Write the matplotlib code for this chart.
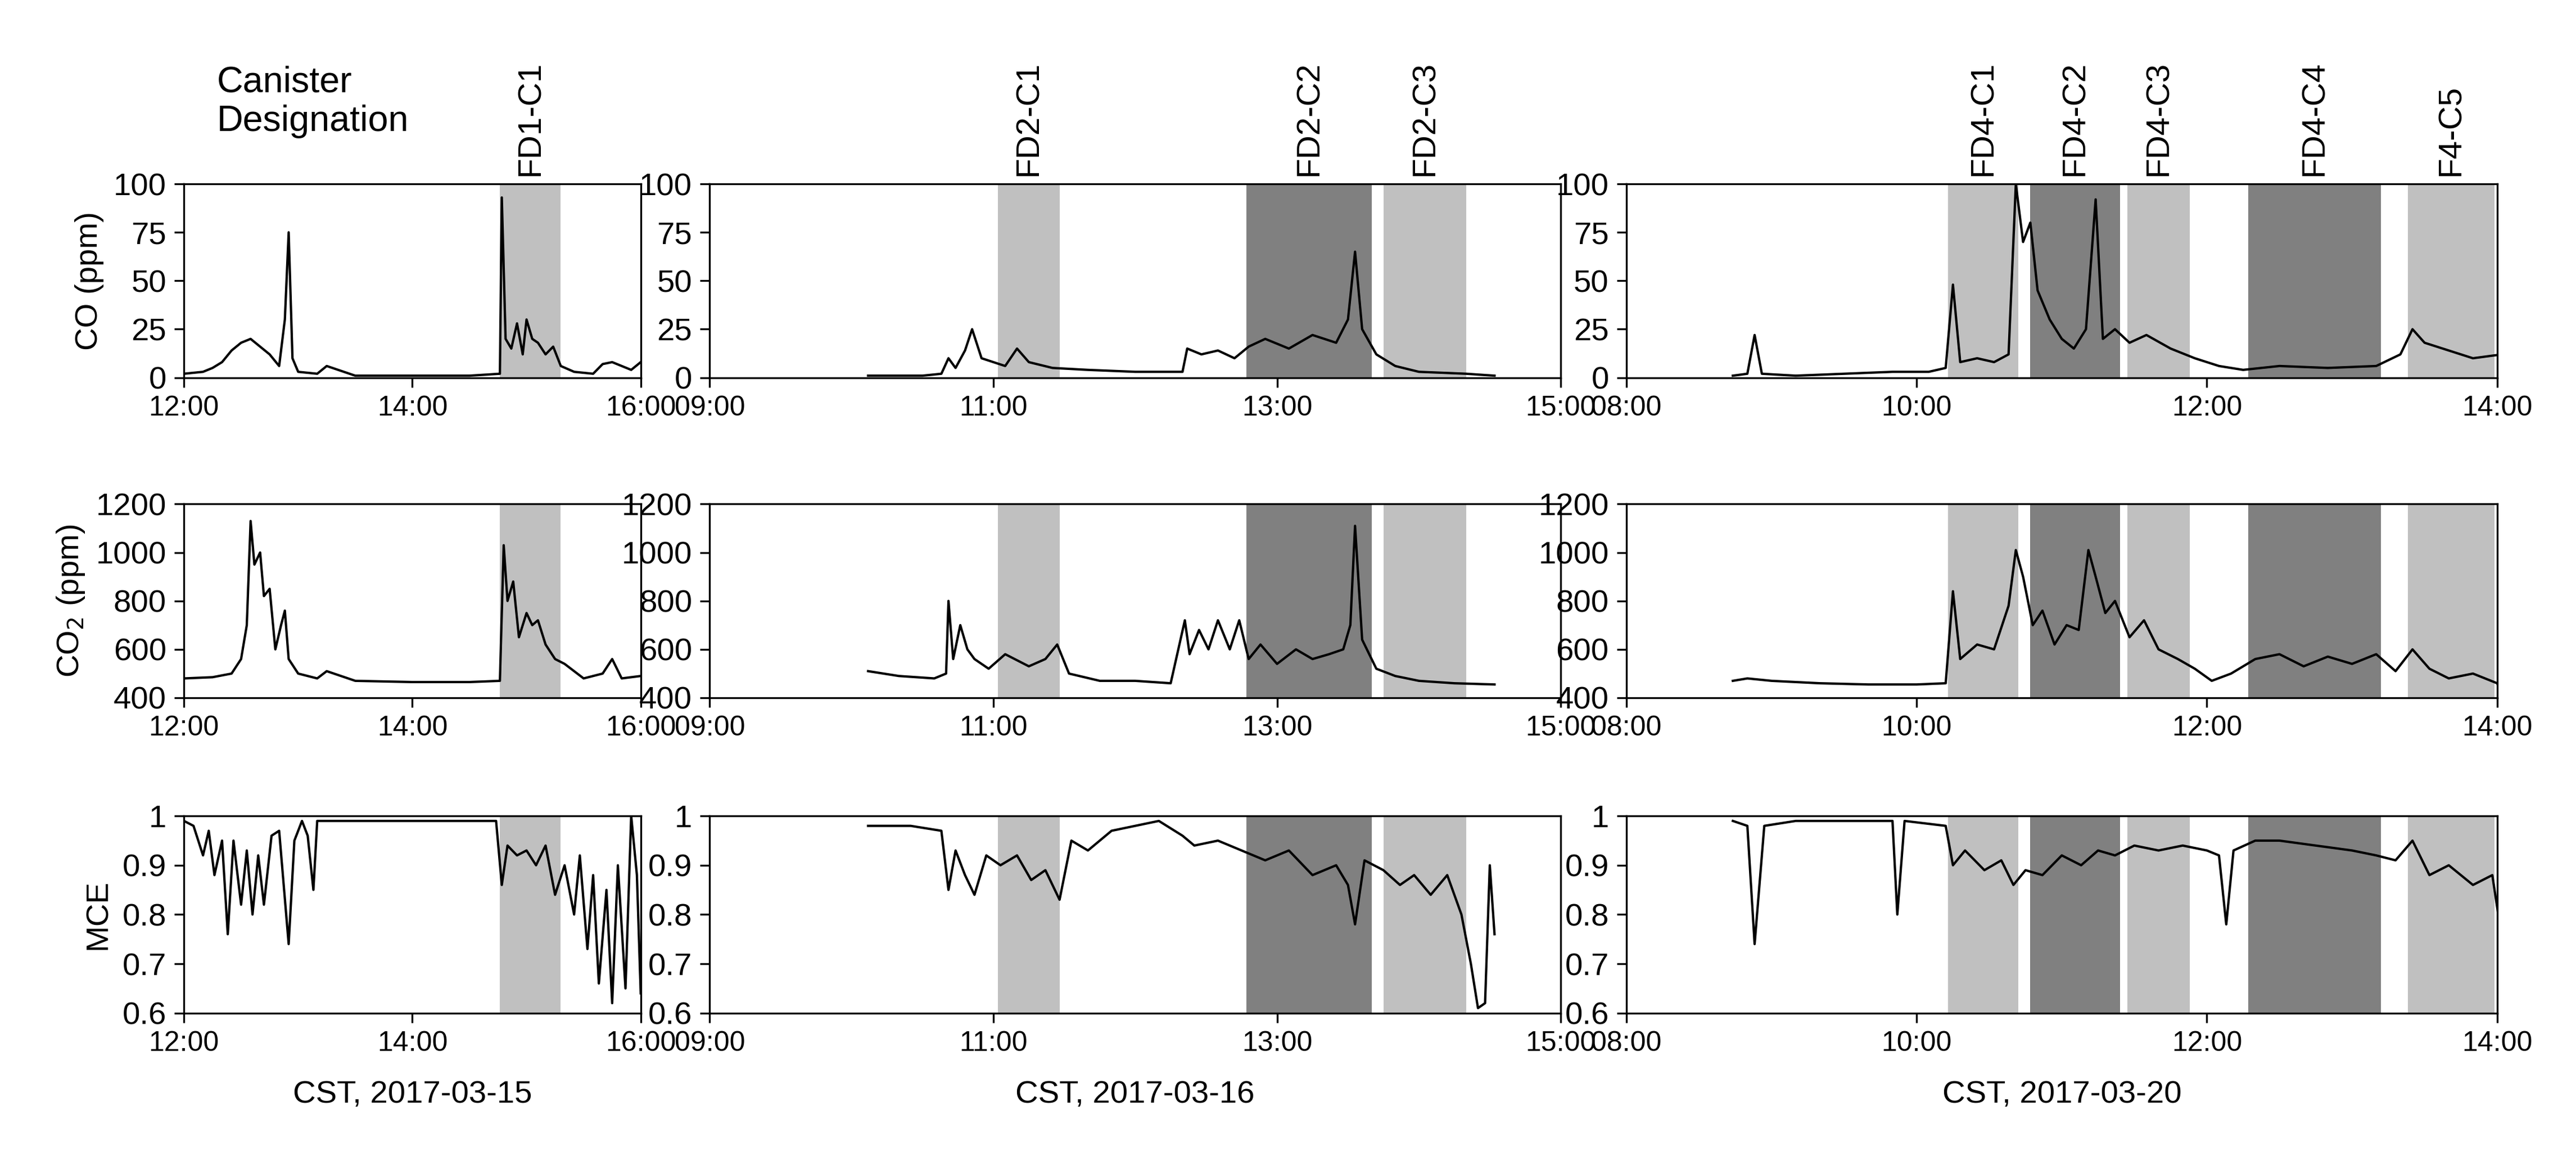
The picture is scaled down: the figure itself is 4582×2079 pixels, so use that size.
import numpy as np
import matplotlib.pyplot as plt
import matplotlib.dates as mdates
from datetime import datetime

plt.rcParams['font.family'] = ['Liberation Sans', 'DejaVu Sans']
plt.rcParams['font.size'] = 13

DAYS = ["2017-03-15", "2017-03-16", "2017-03-20"]

# ---- day 1 (2017-03-15) ----
co_t1 = ["12:00", "12:10", "12:15", "12:20", "12:25", "12:30", "12:35", "12:40", "12:45", "12:50", "12:53", "12:55",
         "12:57", "13:00", "13:10", "13:15", "13:30", "14:00", "14:30", "14:46", "14:47", "14:49", "14:52", "14:55",
         "14:58", "15:00", "15:03", "15:06", "15:10", "15:14", "15:18", "15:25", "15:35", "15:40", "15:45", "15:55", "16:00"]
co_v1 = [2, 3, 5, 8, 14, 18, 20, 16, 12, 6, 30, 75,
         10, 3, 2, 6, 1, 1, 1, 2, 93, 20, 15, 28, 12, 30, 20, 18, 12, 16, 6, 3, 2, 7, 8, 4, 8]
co2_t1 = ["12:00", "12:15", "12:25", "12:30", "12:33", "12:35", "12:37", "12:40", "12:42", "12:45", "12:48",
          "12:51", "12:53", "12:55", "13:00", "13:10", "13:15", "13:30", "14:00", "14:30", "14:46", "14:48",
          "14:50", "14:53", "14:56", "15:00", "15:03", "15:06", "15:10", "15:15", "15:20", "15:30", "15:40", "15:45",
          "15:50", "16:00"]
co2_v1 = [480, 485, 500, 560, 700, 1130, 950, 1000, 820, 850, 600,
          700, 760, 560, 500, 480, 510, 470, 465, 465, 470, 1030,
          800, 880, 650, 750, 700, 720, 620, 560, 540, 480, 500, 560, 480, 490]
mce_t1 = ["12:00", "12:05", "12:10", "12:13", "12:16", "12:20", "12:23", "12:26", "12:30", "12:33", "12:36",
          "12:39", "12:42", "12:46", "12:50", "12:55", "12:58", "13:02", "13:05", "13:08", "13:10", "13:20",
          "14:00", "14:30", "14:44", "14:47", "14:50", "14:55", "15:00", "15:05", "15:10", "15:15", "15:20", "15:25",
          "15:28", "15:32", "15:35", "15:38", "15:42", "15:45", "15:48", "15:52", "15:55", "15:58", "16:00"]
mce_v1 = [0.99, 0.98, 0.92, 0.97, 0.88, 0.95, 0.76, 0.95, 0.82, 0.93, 0.80,
          0.92, 0.82, 0.96, 0.97, 0.74, 0.95, 0.99, 0.96, 0.85, 0.99, 0.99,
          0.99, 0.99, 0.99, 0.86, 0.94, 0.92, 0.93, 0.90, 0.94, 0.84, 0.90, 0.80,
          0.92, 0.73, 0.88, 0.66, 0.85, 0.62, 0.90, 0.65, 1.0, 0.88, 0.64]

# ---- day 2 (2017-03-16) ----
co_t2 = ["10:07", "10:30", "10:38", "10:41", "10:44", "10:48", "10:51", "10:55", "11:00", "11:05", "11:10",
         "11:15", "11:25", "11:40", "12:00", "12:20", "12:22", "12:28", "12:35", "12:42", "12:48", "12:55",
         "13:05", "13:15", "13:25", "13:30", "13:33", "13:36", "13:42", "13:50", "14:00", "14:20", "14:32"]
co_v2 = [1, 1, 2, 10, 5, 14, 25, 10, 8, 6, 15,
         8, 5, 4, 3, 3, 15, 12, 14, 10, 16, 20,
         15, 22, 18, 30, 65, 25, 12, 6, 3, 2, 1]
co2_t2 = ["10:07", "10:20", "10:35", "10:40", "10:41", "10:43", "10:46", "10:49", "10:52", "10:58", "11:05",
          "11:15", "11:22", "11:27", "11:32", "11:45", "12:00", "12:15", "12:21", "12:23", "12:27", "12:31",
          "12:35", "12:40", "12:44", "12:48", "12:53", "13:00", "13:08", "13:15", "13:22", "13:28", "13:31",
          "13:33", "13:36", "13:42", "13:50", "14:00", "14:15", "14:32"]
co2_v2 = [510, 490, 480, 500, 800, 560, 700, 600, 560, 520, 580,
          530, 560, 620, 500, 470, 470, 460, 720, 580, 680, 600,
          720, 600, 720, 560, 620, 540, 600, 560, 580, 600, 700,
          1110, 640, 520, 490, 470, 460, 455]
mce_t2 = ["10:07", "10:25", "10:38", "10:41", "10:44", "10:48", "10:52", "10:57", "11:03", "11:10", "11:16",
          "11:22", "11:28", "11:33", "11:40", "11:50", "12:00", "12:10", "12:20", "12:25", "12:35", "12:45",
          "12:55", "13:05", "13:15", "13:25", "13:30", "13:33", "13:37", "13:45", "13:52", "13:58", "14:05",
          "14:12", "14:18", "14:22", "14:25", "14:28", "14:30", "14:32"]
mce_v2 = [0.98, 0.98, 0.97, 0.85, 0.93, 0.88, 0.84, 0.92, 0.90, 0.92, 0.87,
          0.89, 0.83, 0.95, 0.93, 0.97, 0.98, 0.99, 0.96, 0.94, 0.95, 0.93,
          0.91, 0.93, 0.88, 0.90, 0.86, 0.78, 0.91, 0.89, 0.86, 0.88, 0.84,
          0.88, 0.80, 0.70, 0.61, 0.62, 0.90, 0.76]

# ---- day 3 (2017-03-20) ----
co_t3 = ["08:44", "08:50", "08:53", "08:56", "09:10", "09:30", "09:50", "10:05", "10:12", "10:15", "10:18",
         "10:25", "10:32", "10:38", "10:41", "10:44", "10:47", "10:50", "10:55", "11:00", "11:05", "11:10",
         "11:14", "11:17", "11:22", "11:28", "11:35", "11:45", "11:55", "12:05", "12:15", "12:30", "12:50",
         "13:10", "13:20", "13:25", "13:30", "13:40", "13:50", "14:02"]
co_v3 = [1, 2, 22, 2, 1, 2, 3, 3, 5, 48, 8,
         10, 8, 12, 100, 70, 80, 45, 30, 20, 15, 25,
         92, 20, 25, 18, 22, 15, 10, 6, 4, 6, 5,
         6, 12, 25, 18, 14, 10, 12]
co2_t3 = ["08:44", "08:50", "09:00", "09:20", "09:40", "10:00", "10:12", "10:15", "10:18", "10:25", "10:32",
          "10:38", "10:41", "10:44", "10:48", "10:52", "10:57", "11:02", "11:07", "11:11", "11:14", "11:18",
          "11:22", "11:28", "11:34", "11:40", "11:48", "11:55", "12:02", "12:10", "12:20", "12:30", "12:40",
          "12:50", "13:00", "13:10", "13:18", "13:25", "13:32", "13:40", "13:50", "14:00", "14:02"]
co2_v3 = [470, 480, 470, 460, 455, 455, 460, 840, 560, 620, 600,
          780, 1010, 900, 700, 760, 620, 700, 680, 1010, 900, 750,
          800, 650, 720, 600, 560, 520, 470, 500, 560, 580, 530,
          570, 540, 580, 510, 600, 520, 480, 500, 460, 410]
mce_t3 = ["08:44", "08:50", "08:53", "08:57", "09:10", "09:30", "09:50", "09:52", "09:55", "10:12", "10:15",
          "10:20", "10:28", "10:35", "10:40", "10:45", "10:52", "11:00", "11:08", "11:15", "11:22", "11:30",
          "11:40", "11:50", "12:00", "12:05", "12:08", "12:11", "12:20", "12:30", "12:45", "13:00", "13:10",
          "13:18", "13:25", "13:32", "13:40", "13:50", "13:58", "14:02"]
mce_v3 = [0.99, 0.98, 0.74, 0.98, 0.99, 0.99, 0.99, 0.80, 0.99, 0.98, 0.90,
          0.93, 0.89, 0.91, 0.86, 0.89, 0.88, 0.92, 0.90, 0.93, 0.92, 0.94,
          0.93, 0.94, 0.93, 0.92, 0.78, 0.93, 0.95, 0.95, 0.94, 0.93, 0.92,
          0.91, 0.95, 0.88, 0.90, 0.86, 0.88, 0.75]

# canister sampling windows: (label, start, end, dark?)
can1 = [("FD1-C1", "14:46", "15:18", False)]
can2 = [("FD2-C1", "11:02", "11:28", False), ("FD2-C2", "12:47", "13:40", True),
        ("FD2-C3", "13:45", "14:20", False)]
can3 = [("FD4-C1", "10:13", "10:42", False), ("FD4-C2", "10:47", "11:24", True),
        ("FD4-C3", "11:27", "11:53", False), ("FD4-C4", "12:17", "13:12", True),
        ("F4-C5", "13:23", "13:59", False)]

xlims = [("12:00", "16:00"), ("09:00", "15:00"), ("08:00", "14:00")]
cols = [
    (co_t1, co_v1, co2_t1, co2_v1, mce_t1, mce_v1, can1),
    (co_t2, co_v2, co2_t2, co2_v2, mce_t2, mce_v2, can2),
    (co_t3, co_v3, co2_t3, co2_v3, mce_t3, mce_v3, can3),
]


def tt(day, hm):
    return datetime.strptime(day + " " + hm, "%Y-%m-%d %H:%M")


W, H = 4582, 2079
fig = plt.figure(figsize=(W / 300, H / 300), dpi=300)
sx = 1568.0
sy = 712.0
xpos = [(112, 390), (432, 950), (990, 1520)]
ypos = [(112, 230), (307, 425), (497, 617)]
ylims = [(0, 100), (400, 1200), (0.6, 1.0)]
yticks = [[0, 25, 50, 75, 100], [400, 600, 800, 1000, 1200], [0.6, 0.7, 0.8, 0.9, 1.0]]
yticklabels = [None, None, ["0.6", "0.7", "0.8", "0.9", "1"]]
ylabels = ["CO (ppm)", "CO$_2$ (ppm)", "MCE"]

for c, (day, col) in enumerate(zip(DAYS, cols)):
    series = [(col[0], col[1]), (col[2], col[3]), (col[4], col[5])]
    cans = col[6]
    for r in range(3):
        x0, x1 = xpos[c]
        y0, y1 = ypos[r]
        ax = fig.add_axes([x0 / sx, 1 - y1 / sy, (x1 - x0) / sx, (y1 - y0) / sy])
        for lab, s, e, dark in cans:
            ax.axvspan(tt(day, s), tt(day, e), color="#808080" if dark else "#c0c0c0", lw=0)
            if r == 0:
                mid = tt(day, s) + (tt(day, e) - tt(day, s)) / 2
                ax.text(mid, 104, lab, rotation=90, ha="center", va="bottom", fontsize=14)
        ts = [tt(day, h) for h in series[r][0]]
        ax.plot(ts, series[r][1], color="black", lw=1.0)
        ax.set_xlim(tt(day, xlims[c][0]), tt(day, xlims[c][1]))
        ax.set_ylim(*ylims[r])
        ax.set_yticks(yticks[r])
        if yticklabels[r]:
            ax.set_yticklabels(yticklabels[r])
        ax.xaxis.set_major_locator(mdates.HourLocator(interval=2))
        ax.xaxis.set_major_formatter(mdates.DateFormatter("%H:%M"))
        ax.tick_params(axis="y", labelsize=13.5, direction="out", length=4)
        ax.tick_params(axis="x", labelsize=12, direction="out", length=4)
        if c == 0:
            ax.set_ylabel(ylabels[r], fontsize=13.5)
        if r == 2:
            ax.set_xlabel("CST, " + day, fontsize=13.5, labelpad=10)

fig.text(132 / sx, 1 - 62 / sy, "Canister\nDesignation", fontsize=15.5, ha="left", va="center")
fig.savefig("out.png", dpi=300)
